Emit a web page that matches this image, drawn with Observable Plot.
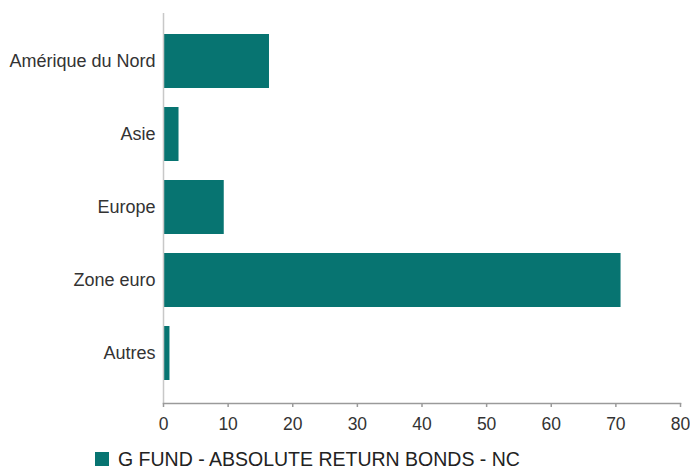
<!DOCTYPE html>
<html>
<head>
<meta charset="utf-8">
<script src="https://cdn.jsdelivr.net/npm/d3@7"></script>
<script src="https://cdn.jsdelivr.net/npm/@observablehq/plot@0.6"></script>
<style>
  html, body { margin: 0; padding: 0; background: #fff; }
  body { width: 690px; height: 470px; overflow: hidden; font-family: "Liberation Sans", Arial, sans-serif; }
  #legend { display: flex; align-items: center; height: 30px; margin-top: 4px; padding-left: 95px; font-size: 19.5px; color: #222; }
  #legend .sw { width: 14px; height: 14px; background: #077471; margin-right: 9px; }
</style>
</head>
<body>
<div id="chart"></div>
<div id="legend"><span class="sw"></span><span>G FUND - ABSOLUTE RETURN BONDS - NC</span></div>
<script>
const categories = ["Amérique du Nord", "Asie", "Europe", "Zone euro", "Autres"];
const values = [16.4, 2.4, 9.4, 70.8, 1.0];
const xTicks = [0, 10, 20, 30, 40, 50, 60, 70, 80];
const seriesName = "G FUND - ABSOLUTE RETURN BONDS - NC";
const barColor = "#077471";

const data = categories.map((c, i) => ({region: c, value: values[i]}));

const chart = Plot.plot({
  width: 690,
  height: 440,
  marginLeft: 163,
  marginRight: 10,
  marginTop: 13,
  marginBottom: 37,
  style: {fontFamily: "Liberation Sans, Arial, sans-serif", fontSize: "17.5px", color: "#333", background: "#fff"},
  x: {domain: [0, 80], ticks: xTicks, label: null},
  y: {domain: categories, paddingInner: 0.266, paddingOuter: 0.285, align: 0.468, label: null},
  marks: [
    Plot.barX(data, {x: "value", y: "region", fill: barColor}),
    Plot.ruleX([0], {stroke: "#c8c8c8", strokeWidth: 1.5}),
    Plot.frame({anchor: "bottom", stroke: "#9a9a9a", strokeWidth: 1.5}),
    Plot.axisX({ticks: xTicks, tickSize: 4, tickPadding: 10, stroke: "#9a9a9a", strokeWidth: 1.5, fill: "#333", label: null}),
    Plot.axisY({tickSize: 0, tickPadding: 8, fill: "#333", fontSize: 18, label: null})
  ]
});
document.getElementById("chart").appendChild(chart);
</script>
</body>
</html>
